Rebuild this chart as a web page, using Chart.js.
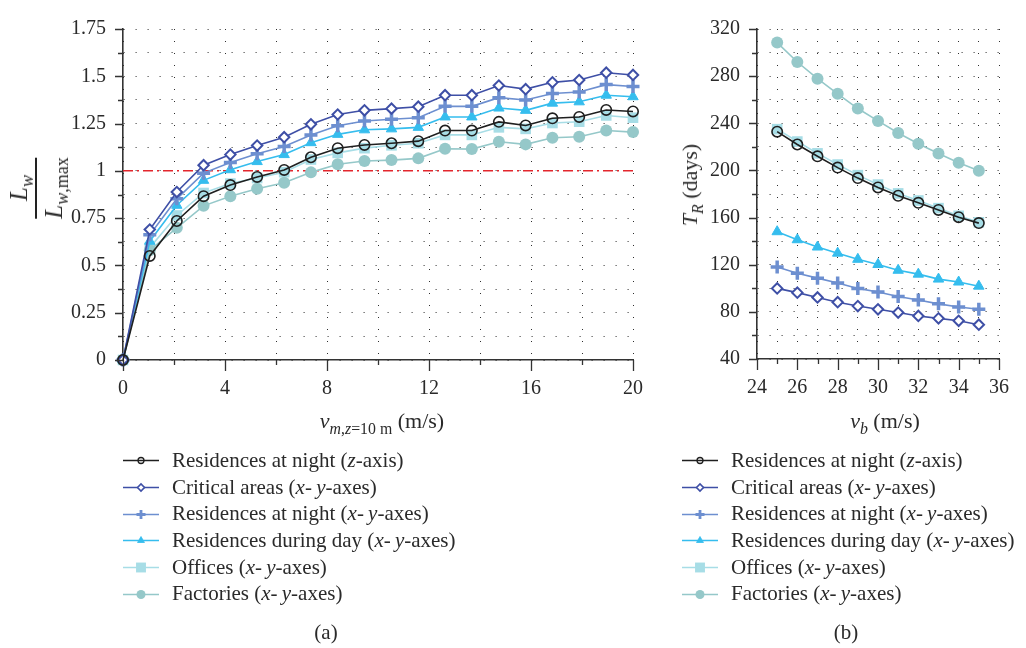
<!DOCTYPE html>
<html>
<head>
<meta charset="utf-8">
<script src="https://cdn.jsdelivr.net/npm/chart.js@4.4.1/dist/chart.umd.min.js"></script>
<style>
  html, body { margin: 0; padding: 0; background: #fff; }
  #page {
    position: relative; width: 1026px; height: 648px; overflow: hidden;
    font-family: 'Liberation Serif', 'DejaVu Serif', serif; color: #2a2a2a;
  }
  .wrap { position: absolute; }
  #wrapA { left: 0; top: 0; width: 660px; height: 440px; }
  #wrapB { left: 660px; top: 0; width: 366px; height: 440px; }
  .title { position: absolute; font-size: 22px; white-space: nowrap; line-height: 1; transform: translate(-50%, -50%); }
  .title.rot { transform: translate(-50%, -50%) rotate(-90deg); }
  sub { font-size: 0.72em; vertical-align: -0.35em; line-height: 0; }
  .frac { display: inline-block; text-align: center; font-size: 25px; }
  .frac .num { display: block; padding-bottom: 4px; }
  .frac .den { display: block; border-top: 2px solid #222; padding-top: 4px; }
  .legend { position: absolute; top: 447px; }
  .legend .row { display: flex; align-items: center; height: 26.7px; font-size: 21px; }
  .legend canvas { width: 36px; height: 20px; margin-right: 13px; }
  .caption { position: absolute; top: 632px; font-size: 21px; transform: translate(-50%, -50%); }
</style>
</head>
<body>
<div id="page">
  <div class="wrap" id="wrapA"><canvas id="chartA"></canvas></div>
  <div class="wrap" id="wrapB"><canvas id="chartB"></canvas></div>

  <div class="title rot" style="left:36px; top:188px;">
    <span class="frac">
      <span class="num"><i>L</i><sub><i>w</i></sub></span>
      <span class="den"><i>L</i><sub><i>w</i>,max</sub></span>
    </span>
  </div>
  <div class="title" style="left:382px; top:421px;"><i>v</i><sub><i>m</i>,<i>z</i>=10 m</sub> (m/s)</div>
  <div class="title rot" style="left:690px; top:185px;"><i>T</i><sub><i>R</i></sub> (days)</div>
  <div class="title" style="left:885px; top:421px;"><i>v</i><sub><i>b</i></sub> (m/s)</div>

  <div class="legend" id="legendA" style="left:123px;"></div>
  <div class="legend" id="legendB" style="left:682px;"></div>
  <div class="caption" style="left:326px;">(a)</div>
  <div class="caption" style="left:846px;">(b)</div>
</div>

<script>
// ---- (a) normalised length vs mean wind speed ----
const speedA = [0, 1.05, 2.11, 3.16, 4.21, 5.26, 6.32, 7.37, 8.42, 9.47, 10.53, 11.58, 12.63, 13.68, 14.74, 15.79, 16.84, 17.89, 18.95, 20];
const nightZA = [0, 0.55, 0.735, 0.866, 0.925, 0.968, 1.005, 1.072, 1.12, 1.137, 1.146, 1.157, 1.213, 1.213, 1.259, 1.24, 1.278, 1.285, 1.322, 1.314];
const criticalA = [0, 0.69, 0.888, 1.03, 1.086, 1.134, 1.178, 1.246, 1.298, 1.32, 1.329, 1.339, 1.4, 1.4, 1.451, 1.432, 1.468, 1.48, 1.519, 1.507];
const nightXYA = [0, 0.662, 0.852, 0.988, 1.044, 1.09, 1.129, 1.19, 1.239, 1.264, 1.273, 1.281, 1.341, 1.341, 1.387, 1.375, 1.409, 1.417, 1.456, 1.446];
const dayA = [0, 0.628, 0.818, 0.95, 1.006, 1.049, 1.086, 1.149, 1.193, 1.217, 1.222, 1.23, 1.285, 1.285, 1.332, 1.32, 1.358, 1.365, 1.4, 1.392];
const officesA = [0, 0.594, 0.764, 0.883, 0.933, 0.962, 0.993, 1.06, 1.095, 1.12, 1.135, 1.146, 1.19, 1.19, 1.23, 1.222, 1.253, 1.26, 1.293, 1.281];
const factoriesA = [0, 0.58, 0.699, 0.815, 0.866, 0.905, 0.937, 0.992, 1.035, 1.052, 1.057, 1.066, 1.117, 1.115, 1.154, 1.14, 1.175, 1.18, 1.213, 1.205];
const referenceLevel = 1;

// ---- (b) return period vs basic wind speed ----
const speedB = [25, 26, 27, 28, 29, 30, 31, 32, 33, 34, 35];
const nightZB = [232.9, 222, 212, 202.4, 193.5, 185.6, 178.5, 172.5, 166.5, 160.3, 155.3];
const criticalB = [99.9, 96.3, 92.2, 88.2, 84.9, 82.2, 79.4, 76.5, 74.5, 72.4, 69.1];
const nightXYB = [118.1, 112.7, 108.6, 104.5, 99.9, 96.9, 93.1, 90.1, 86.8, 84.1, 82.2];
const dayB = [148, 141.2, 135, 129.8, 124.6, 120.2, 115.3, 112, 107.8, 105.3, 101.8];
const officesB = [235, 224.5, 214.5, 205, 196, 188, 180.5, 174.5, 168, 161.5, 156];
const factoriesB = [308.5, 292, 277.8, 265, 252.5, 242, 231.8, 222.6, 214.4, 206.5, 199.7];

// tick labels
const xTickLabelsA = [0, 4, 8, 12, 16, 20];
const yTickLabelsA = [0, 0.25, 0.5, 0.75, 1, 1.25, 1.5, 1.75];
const xTickLabelsB = [24, 26, 28, 30, 32, 34, 36];
const yTickLabelsB = [40, 80, 120, 160, 200, 240, 280, 320];

const seriesNames = [
    'Residences at night (z-axis)',
    'Critical areas (x-y-axes)',
    'Residences at night (x-y-axes)',
    'Residences during day (x-y-axes)',
    'Offices (x-y-axes)',
    'Factories (x-y-axes)'
];
const legendHtml = [
    'Residences at night (<i>z</i>-axis)',
    'Critical areas (<i>x</i>-&thinsp;<i>y</i>-axes)',
    'Residences at night (<i>x</i>-&thinsp;<i>y</i>-axes)',
    'Residences during day (<i>x</i>-&thinsp;<i>y</i>-axes)',
    'Offices (<i>x</i>-&thinsp;<i>y</i>-axes)',
    'Factories (<i>x</i>-&thinsp;<i>y</i>-axes)'
];

// marker look per series (same order as seriesNames)
const styles = [
    { color: '#1f1f1f', fill: 'rgba(255,255,255,0)', point: 'circle', r: 5.2, bw: 1.6, order: 0, lr: 3 },
    { color: '#3e4fa6', fill: '#ffffff', point: 'rectRot', r: 5.2, bw: 2, order: 1, lr: 3.5 },
    { color: '#6d8fd0', fill: '#6d8fd0', point: 'cross', r: 6.5, bw: 3.5, order: 2, lr: 4.5 },
    { color: '#35bdee', fill: '#35bdee', point: 'triangle', r: 6, bw: 1, order: 3, lr: 4 },
    { color: '#a7dde6', fill: '#a7dde6', point: 'rect', r: 7.5, bw: 0, order: 5, lr: 7 },
    { color: '#95c8c9', fill: '#95c8c9', point: 'circle', r: 6, bw: 0, order: 4, lr: 4.5 }
];

const FONT = "'Liberation Serif', 'DejaVu Serif', serif";
const INK = '#2a2a2a';

function toPoints(xs, ys) {
    return xs.map((x, i) => ({ x: x, y: ys[i] }));
}

function makeDatasets(xs, seriesList) {
    return seriesList.map((ys, k) => {
        const s = styles[k];
        return {
            label: seriesNames[k],
            data: toPoints(xs, ys),
            borderColor: s.color,
            borderWidth: 1.6,
            pointStyle: s.point,
            pointRadius: s.r,
            pointBorderWidth: s.bw,
            pointBorderColor: s.color,
            pointBackgroundColor: s.fill,
            tension: 0,
            clip: false,
            order: s.order
        };
    });
}

// major/minor tick marks drawn outside the axes
const axisTicks = {
    id: 'axisTicks',
    afterDraw(chart) {
        const { ctx, chartArea, scales: { x, y } } = chart;
        ctx.save();
        ctx.strokeStyle = '#333';
        ctx.lineWidth = 1.3;
        ctx.beginPath();
        x.ticks.forEach(t => {
            const px = Math.round(x.getPixelForValue(t.value)) + 0.5;
            const len = t.label !== '' ? 11 : 5;
            ctx.moveTo(px, chartArea.bottom);
            ctx.lineTo(px, chartArea.bottom + len);
        });
        y.ticks.forEach(t => {
            const py = Math.round(y.getPixelForValue(t.value)) + 0.5;
            const len = t.label !== '' ? 8 : 5;
            ctx.moveTo(chartArea.left, py);
            ctx.lineTo(chartArea.left - len, py);
        });
        ctx.stroke();
        ctx.restore();
    }
};

function axis(min, max, step, labels, padding, fit) {
    return {
        type: 'linear',
        min: min,
        max: max,
        afterFit: fit,
        grid: { color: '#2e2e2e', lineWidth: 1, drawTicks: false },
        border: { display: true, color: '#333', width: 1.6, dash: [1, 11] },
        ticks: {
            stepSize: step,
            maxTicksLimit: 100,
            autoSkip: false,
            maxRotation: 0,
            padding: padding,
            color: INK,
            font: { family: FONT, size: 20 },
            callback: (v) => labels.includes(v) ? String(v) : ''
        }
    };
}

function buildChart(id, datasets, xScale, yScale, padding) {
    return new Chart(document.getElementById(id), {
        type: 'line',
        data: { datasets: datasets },
        options: {
            responsive: true,
            maintainAspectRatio: false,
            animation: false,
            events: [],
            layout: { padding: padding },
            plugins: { legend: { display: false }, tooltip: { enabled: false } },
            scales: { x: xScale, y: yScale }
        },
        plugins: [axisTicks]
    });
}

// chart (a)
const dsA = makeDatasets(speedA, [nightZA, criticalA, nightXYA, dayA, officesA, factoriesA]);
dsA.push({
    label: 'limit',
    data: [{ x: speedA[0], y: referenceLevel }, { x: speedA[speedA.length - 1], y: referenceLevel }],
    borderColor: '#e3262d',
    borderWidth: 1.5,
    borderDash: [10, 4, 2, 4],
    pointRadius: 0,
    order: 6
});
buildChart('chartA', dsA,
    axis(0, 20, 2, xTickLabelsA, 17, s => { s.height = 40; }),
    axis(0, 1.75, 0.125, yTickLabelsA, 17, s => { s.width = 60; }),
    { left: 63, right: 20, top: 16, bottom: 40 });

// chart (b)
const dsB = makeDatasets(speedB, [nightZB, criticalB, nightXYB, dayB, officesB, factoriesB]);
buildChart('chartB', dsB,
    axis(24, 36, 1, xTickLabelsB, 17, s => { s.height = 40; }),
    axis(40, 320, 20, yTickLabelsB, 17, s => { s.width = 60; }),
    { left: 37, right: 12, top: 16, bottom: 41 });

// legends (HTML text, markers drawn with Chart.js point helper)
function buildLegend(elId) {
    const box = document.getElementById(elId);
    seriesNames.forEach((name, k) => {
        const s = styles[k];
        const row = document.createElement('div');
        row.className = 'row';
        const c = document.createElement('canvas');
        c.width = 36; c.height = 20;
        const ctx = c.getContext('2d');
        ctx.strokeStyle = s.color;
        ctx.lineWidth = 1.6;
        ctx.beginPath();
        ctx.moveTo(0, 10.5);
        ctx.lineTo(36, 10.5);
        ctx.stroke();
        ctx.fillStyle = s.fill;
        ctx.strokeStyle = s.color;
        ctx.lineWidth = Math.max(s.bw * 0.8, 0.01);
        Chart.helpers.drawPoint(ctx, { pointStyle: s.point, radius: s.lr, borderWidth: s.bw, rotation: 0 }, 18, 10.5);
        row.appendChild(c);
        const span = document.createElement('span');
        span.innerHTML = legendHtml[k];
        row.appendChild(span);
        box.appendChild(row);
    });
}
buildLegend('legendA');
buildLegend('legendB');
</script>
</body>
</html>
